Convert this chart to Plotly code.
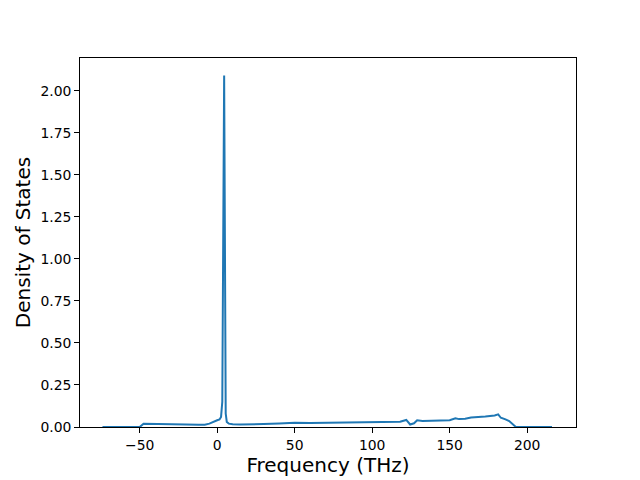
import plotly.graph_objects as go

freq = [-74, -60, -50, -47.5, -40, -30, -20, -12, -8, -5, -3, 0, 1.5, 2.5, 3.3, 4.5, 5.5, 6.2, 7.5, 10, 15, 20, 30, 40, 50, 60, 80, 100, 110, 118, 122, 124.5, 127, 129, 132.5, 140, 150, 153.7, 156, 160, 163.8, 173, 179, 181.3, 183, 186, 188.4, 192.7, 200, 216]
dos = [0.0, 0.0, 0.0, 0.019, 0.019, 0.017, 0.015, 0.013, 0.014, 0.02, 0.03, 0.04, 0.045, 0.06, 0.15, 2.09, 0.08, 0.03, 0.02, 0.016, 0.015, 0.015, 0.018, 0.021, 0.025, 0.024, 0.025, 0.027, 0.029, 0.031, 0.042, 0.015, 0.022, 0.04, 0.035, 0.037, 0.04, 0.052, 0.047, 0.049, 0.056, 0.062, 0.068, 0.075, 0.055, 0.045, 0.035, 0.0, 0.0, 0.0]

yticks = [0.0, 0.25, 0.5, 0.75, 1.0, 1.25, 1.5, 1.75, 2.0]
xticks = [-50, 0, 50, 100, 150, 200]

fig = go.Figure(go.Scatter(x=freq, y=dos, mode="lines",
                           line=dict(color="#1f77b4", width=2)))

axis_common = dict(showgrid=False, zeroline=False, showline=True, linecolor="black",
                   linewidth=1, mirror=True, ticks="outside", ticklen=4.9,
                   tickcolor="black", tickfont=dict(size=13.9, color="black"))

fig.update_layout(
    width=640, height=480,
    margin=dict(l=72, r=72, t=50, b=61),
    paper_bgcolor="white", plot_bgcolor="white",
    font=dict(family="DejaVu Sans", color="black"),
    showlegend=False,
    xaxis=dict(range=[-88.5, 231.5], tickvals=xticks,
               ticktext=["\u221250", "0", "50", "100", "150", "200"],
               title=dict(text="Frequency (THz)", font=dict(size=20), standoff=5),
               **axis_common),
    yaxis=dict(range=[0, 2.1945], tickvals=yticks, tickformat=".2f",
               title=dict(text="Density of States", font=dict(size=20), standoff=4),
               **axis_common),
)

fig.write_html("out.html")
